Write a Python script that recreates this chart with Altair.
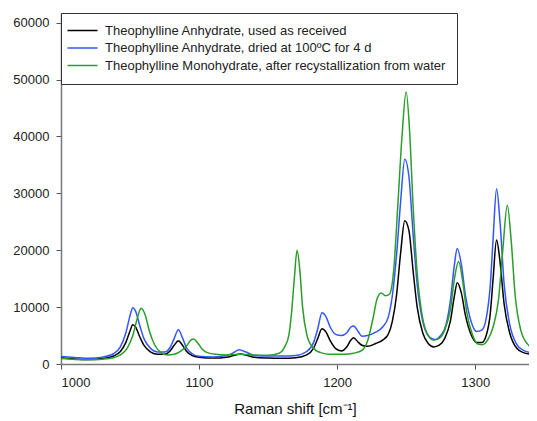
import altair as alt
import pandas as pd

labels = [
    "Theophylline Anhydrate, used as received",
    "Theophylline Anhydrate, dried at 100ºC for 4 d",
    "Theophylline Monohydrate, after recystallization from water",
]
colors = ["#000000", "#3355ff", "#2a9d2a"]

black_x = [1000, 1010, 1020, 1030, 1038, 1043, 1047, 1050, 1052, 1054, 1057, 1060, 1065, 1070, 1075,
           1079, 1082, 1085, 1088, 1091, 1095, 1100, 1110, 1120, 1125, 1130, 1135, 1140, 1150, 1160,
           1170, 1178, 1183, 1186, 1189, 1192, 1195, 1199, 1203, 1207, 1210, 1212, 1215, 1218, 1222,
           1228, 1233, 1237, 1240, 1243, 1246, 1249, 1252, 1255, 1258, 1262, 1266, 1270, 1274, 1278,
           1282, 1285, 1287, 1290, 1293, 1297, 1301, 1305, 1308, 1311, 1313, 1315.5, 1318, 1321, 1325,
           1330, 1335, 1340, 1345]
black_y = [1100, 900, 800, 950, 1400, 2200, 3800, 5800, 6900, 6500, 4800, 3300, 2100, 1700, 1700,
           2300, 3300, 4100, 3300, 2200, 1500, 1200, 1050, 1200, 1500, 1750, 1500, 1200, 1050, 1000,
           1100, 1600, 2800, 4500, 6200, 5600, 4100, 2700, 2300, 3000, 4200, 4600, 3900, 3300, 3100,
           3600, 4200, 5200, 7500, 12000, 19500, 25200, 23500, 16500, 10000, 5500, 3600, 3000, 3300, 4500,
           7500, 12000, 14300, 12500, 8500, 5200, 3800, 3800, 5000, 9000, 15000, 21800, 18000, 10500, 5500,
           2800, 2000, 1700, 1550]

blue_x = [1000, 1010, 1020, 1030, 1038, 1043, 1047, 1050, 1052, 1054, 1057, 1060, 1065, 1070, 1075,
          1079, 1082, 1085, 1088, 1091, 1095, 1100, 1110, 1120, 1125, 1129, 1134, 1140, 1150, 1160,
          1170, 1178, 1183, 1186, 1189, 1192, 1195, 1199, 1203, 1207, 1210, 1212, 1215, 1218, 1222,
          1228, 1233, 1237, 1240, 1243, 1246, 1249, 1252, 1255, 1258, 1262, 1266, 1271, 1275, 1279,
          1282, 1285, 1287, 1290, 1293, 1297, 1301, 1305, 1308, 1311, 1313, 1315.5, 1318, 1321, 1325,
          1330, 1335, 1340, 1345]
blue_y = [1300, 1150, 1000, 1200, 1800, 3000, 5500, 8500, 9900, 9300, 6800, 4500, 2700, 2100, 2100,
          2900, 4500, 6000, 4600, 2800, 1800, 1350, 1250, 1500, 2000, 2500, 2100, 1500, 1400, 1400,
          1500, 2200, 3800, 6200, 9000, 8300, 6500, 5200, 5000, 5500, 6500, 6700, 5800, 4900, 5000,
          5600, 6500, 8200, 12000, 19000, 28500, 36000, 33000, 23000, 14000, 7500, 5000, 4300, 5000, 7000,
          11000, 17500, 20300, 17500, 12000, 7500, 5700, 6000, 8000, 14000, 22000, 30800, 25000, 14000, 7000,
          3500, 2400, 2000, 1800]

green_x = [1000, 1010, 1020, 1030, 1038, 1043, 1048, 1052, 1055, 1058, 1061, 1064, 1068, 1072, 1077,
           1082, 1087, 1091, 1094, 1096, 1099, 1102, 1106, 1112, 1120, 1130, 1140, 1150, 1158, 1162,
           1165, 1167, 1169, 1171, 1173, 1175, 1178, 1182, 1188, 1195, 1205, 1212, 1218, 1222, 1226,
           1229, 1232, 1235, 1238, 1241, 1244, 1247, 1250, 1252.5, 1255, 1258, 1262, 1266, 1270, 1274,
           1278, 1282, 1285, 1288, 1291, 1294, 1298, 1302, 1305, 1309, 1313, 1317, 1320, 1323.3, 1326,
           1329, 1333, 1338, 1345]
green_y = [950, 800, 750, 850, 1100, 1600, 2800, 5000, 7800, 9800, 8600, 5800, 3300, 2100, 1600,
           1700, 2300, 3200, 4200, 4400, 3700, 2700, 2000, 1700, 1600, 1700, 1600, 1550, 1900, 3000,
           5000, 9000, 15000, 20000, 16500, 10000, 5200, 3000, 2000, 1700, 1700, 1900, 2400, 4000, 8000,
           11500, 12500, 12000, 12300, 16500, 28000, 40000, 47800, 41000, 28000, 16000, 8000, 5000, 4200, 4500,
           6000, 9500, 15000, 18000, 14500, 9000, 5200, 3500, 3400, 4200, 6500, 11500, 20000, 27900, 22000,
           12000, 6000, 3500, 2400]

frames = []
for lab, xs, ys in zip(labels, [black_x, blue_x, green_x], [black_y, blue_y, green_y]):
    frames.append(pd.DataFrame({"shift": xs, "intensity": ys, "series": lab}))
df = pd.concat(frames, ignore_index=True)

FONT = "Liberation Sans"

chart = alt.Chart(df).mark_line(strokeWidth=1.5, interpolate="monotone", clip=True).encode(
    x=alt.X("shift:Q",
            scale=alt.Scale(domain=[1000, 1339], nice=False, zero=False),
            axis=alt.Axis(title="Raman shift [cm⁻¹]", values=[1000, 1100, 1200, 1300], format="d",
                          titleFontSize=15, titleFontWeight="normal", titlePadding=12)),
    y=alt.Y("intensity:Q",
            scale=alt.Scale(domain=[0, 61700], nice=False),
            axis=alt.Axis(title=None, values=[0, 10000, 20000, 30000, 40000, 50000, 60000], format="d")),
    color=alt.Color("series:N",
                    scale=alt.Scale(domain=labels, range=colors),
                    sort=labels,
                    legend=alt.Legend(title=None, orient="none", legendX=0, legendY=0,
                                      fillColor="white", strokeColor="#333333", padding=11,
                                      symbolType="M-3,0H3", symbolSize=100, symbolStrokeWidth=1.5,
                                      symbolOffset=4, labelOffset=16, labelFontSize=13,
                                      labelFont=FONT, labelColor="#222222", rowPadding=3.5,
                                      labelLimit=500)),
).properties(
    width=468, height=351,
    padding={"left": 53, "top": 5, "right": 0, "bottom": 57},
    autosize=alt.AutoSizeParams(type="none"),
).configure_view(stroke=None).configure_axis(
    grid=False, domainColor="#777777", domainWidth=1.5, tickColor="#555555", tickSize=5,
    labelFontSize=13, labelFont=FONT, labelColor="#222222", labelPadding=7,
    titleFont=FONT, titleColor="#111111",
)

chart.save("out.html", embed_options={"renderer": "svg", "actions": False})
